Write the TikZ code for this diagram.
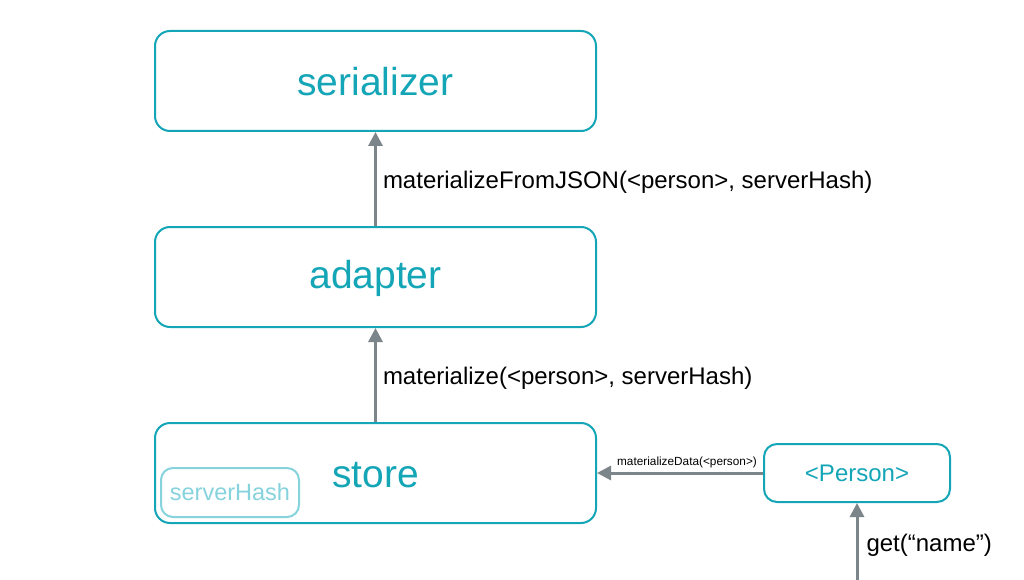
\documentclass[tikz,border=0pt]{standalone}
\usepackage{fontspec}
\setmainfont{Liberation Sans}
\usetikzlibrary{arrows.meta}
\definecolor{teal1}{HTML}{14A6B7}
\definecolor{teallight}{HTML}{86D3DE}
\definecolor{arrowgray}{HTML}{7B858A}
\tikzset{
  x=1pt, y=-1pt,
  bigbox/.style={draw=teal1, line width=2pt, rounded corners=15pt, fill=white,
    minimum width=441pt, minimum height=100pt},
  bigtext/.style={text=teal1, font=\fontsize{39}{44}\selectfont, inner sep=0pt},
  smallbox/.style={draw=teal1, line width=2pt, rounded corners=13pt, fill=white,
    minimum width=186pt, minimum height=58pt, text=teal1,
    font=\fontsize{24}{28}\selectfont, inner sep=0pt},
  hashbox/.style={draw=teallight, line width=2pt, rounded corners=12pt,
    minimum width=138pt, minimum height=49pt, text=teallight,
    font=\fontsize{23.5}{27}\selectfont, inner sep=0pt},
  flow/.style={draw=arrowgray, line width=3pt,
    -{Triangle[length=14pt, width=14pt]}},
  lbl/.style={font=\fontsize{24}{28}\selectfont, text=black, inner sep=0pt},
  smalllbl/.style={font=\fontsize{11.8}{14}\selectfont, text=black, inner sep=0pt}
}
\begin{document}
\begin{tikzpicture}
\useasboundingbox (0,0) rectangle (1024,580);
% component boxes
\node[bigbox] (serializer) at (375.5,81) {};
\node[bigtext] (serializerlbl) at (375.5,82) {serializer};
\node[bigbox] (adapter) at (375.5,277) {};
\node[bigtext] (adapterlbl) at (375.5,278) {adapter};
\node[bigbox] (store) at (375.5,473) {};
\node[bigtext] (storelbl) at (375.5,475) {store};
\node[hashbox] (hash) at (230,492.5) {serverHash};
\node[smallbox] (person) at (857,473) {<Person>};
\coordinate (caller) at (857,580);
% calls between components
\draw[flow] (adapter.north) -- (serializer.south)
  node[midway, right, lbl, xshift=6pt, yshift=-3pt] {materializeFromJSON(<person>, serverHash)};
\draw[flow] (store.north) -- (adapter.south)
  node[midway, right, lbl, xshift=6pt, yshift=-3pt] {materialize(<person>, serverHash)};
\draw[flow] (person.west) -- (store.east)
  node[midway, above, smalllbl, xshift=7pt, yshift=4pt] {materializeData(<person>)};
\draw[flow] (caller) -- (person.south)
  node[midway, right, lbl, xshift=8pt, yshift=-4pt] {get(“name”)};
\end{tikzpicture}
\end{document}
